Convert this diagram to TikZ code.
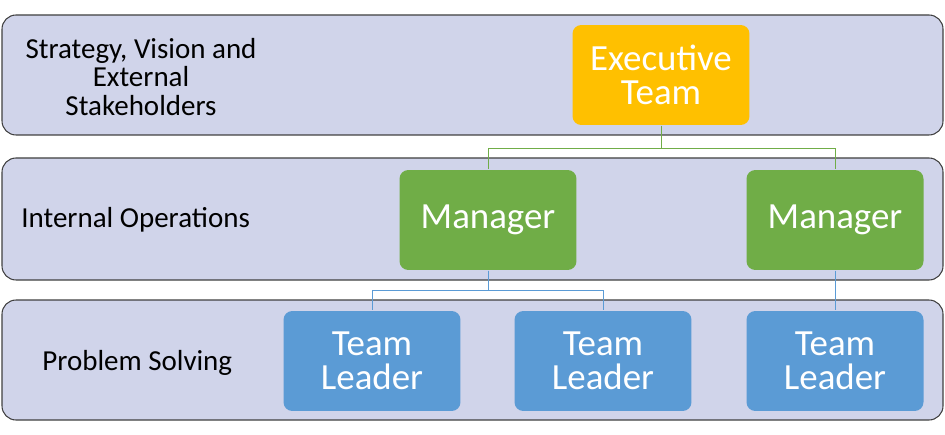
\documentclass[tikz,border=0pt]{standalone}
\usepackage{fontspec}
\setmainfont{Carlito}
\usetikzlibrary{positioning}
\definecolor{bandcol}{RGB}{208,212,234}
\definecolor{execcol}{RGB}{255,192,0}
\definecolor{mgrcol}{RGB}{112,173,71}
\definecolor{leadcol}{RGB}{91,155,213}
\begin{document}
\begin{tikzpicture}[x=0.02cm,y=-0.02cm,semithick]
 \tikzstyle{band}=[draw=black!75, fill=bandcol, rounded corners=8pt]
 \tikzstyle{box}=[rounded corners=5pt, minimum width=3.54cm, minimum height=2cm, text=white, align=center, font=\fontsize{21}{19.5}\selectfont]
 \tikzstyle{lbl}=[anchor=west, align=left, font=\fontsize{16.5}{15.5}\selectfont]
 \useasboundingbox (0,0) rectangle (945,435);
 % bands
 \draw[band] (2,15) rectangle (943,135);
 \draw[band] (2,158) rectangle (943,280);
 \draw[band] (2,300) rectangle (943,420);
 \node[align=center, font=\fontsize{16.5}{16}\selectfont] (L1) at (141,77) {Strategy, Vision and\\External\\Stakeholders};
 \node[lbl] (L2) at (15,220) {Internal Operations};
 \node[lbl] (L3) at (36,363) {Problem Solving};
 % boxes
 \node[box, fill=execcol] (E) at (661,75) {Executive\\Team};
 \node[box, fill=mgrcol] (M1) at (488,220) {Manager};
 \node[box, fill=mgrcol] (M2) at (835,220) {Manager};
 \node[box, fill=leadcol] (T1) at (372,361) {Team\\Leader};
 \node[box, fill=leadcol] (T2) at (603,361) {Team\\Leader};
 \node[box, fill=leadcol] (T3) at (835,361) {Team\\Leader};
 % connectors
 \draw[mgrcol, thin] (E.south) -- ++(0,23) -| (M1.north);
 \draw[mgrcol, thin] (E.south) -- ++(0,23) -| (M2.north);
 \draw[leadcol, thin] (M1.south) -- ++(0,20) -| (T1.north);
 \draw[leadcol, thin] (M1.south) -- ++(0,20) -| (T2.north);
 \draw[leadcol, thin] (M2.south) -- (T3.north);
\end{tikzpicture}
\end{document}
